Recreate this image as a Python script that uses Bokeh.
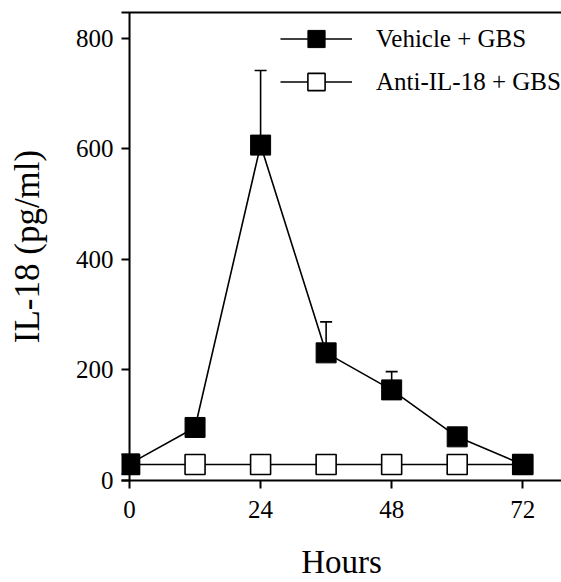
from bokeh.plotting import figure
from bokeh.models import (Range1d, LinearAxis, FixedTicker, Span, Whisker, TeeHead,
                          ColumnDataSource, Legend, LegendItem)
from bokeh.embed import file_html
from bokeh.resources import INLINE

hours = [0, 12, 24, 36, 48, 60, 72]
vehicle = [30, 96, 607, 231, 164, 79, 29]
vehicle_sem = [0, 0, 135, 56, 33, 0, 0]
anti = [29, 29, 29, 29, 29, 29, 29]
x_ticks = [0, 24, 48, 72]
y_ticks = [0, 200, 400, 600, 800]

FONT = "Liberation Serif"

p = figure(width=561, height=582, output_backend="svg", toolbar_location=None,
           x_range=Range1d(-1.47, 79.1), y_range=Range1d(0, 847),
           min_border_left=121, min_border_right=0, min_border_top=12,
           min_border_bottom=101, outline_line_color=None)
p.grid.visible = False
p.background_fill_color = "white"
p.border_fill_color = "white"

# axes
p.xaxis.ticker = FixedTicker(ticks=x_ticks)
p.yaxis.ticker = FixedTicker(ticks=y_ticks)
for ax in (p.xaxis[0], p.yaxis[0]):
    ax.axis_line_width = 2
    ax.axis_line_color = "black"
    ax.major_tick_line_width = 2
    ax.major_tick_line_color = "black"
    ax.minor_tick_line_color = None
    ax.major_label_text_font = FONT
    ax.major_label_text_font_size = "25px"
    ax.major_label_text_color = "black"
    ax.axis_label_text_font = FONT
    ax.axis_label_text_font_style = "normal"
    ax.axis_label_text_color = "black"

p.xaxis.major_tick_out = 8
p.xaxis.major_tick_in = 0
p.xaxis.major_label_standoff = 12
p.xaxis.axis_label = "Hours"
p.xaxis.axis_label_text_font_size = "33px"
p.xaxis.axis_label_standoff = 23

p.yaxis.axis_line_color = None
p.yaxis.major_tick_out = 0
p.yaxis.major_tick_in = 8
p.yaxis.major_label_standoff = 8
p.yaxis.axis_label = "IL-18 (pg/ml)"
p.yaxis.axis_label_text_font_size = "35px"
p.yaxis.axis_label_standoff = 26

# y axis line at x = 0
p.add_layout(Span(location=0, dimension="height", line_color="black", line_width=2))

# top border line
top = LinearAxis(ticker=FixedTicker(ticks=[]), axis_line_width=2, axis_line_color="black",
                 major_tick_out=0, major_tick_in=0, major_label_standoff=0,
                 major_label_text_font_size="0px", minor_tick_line_color=None)
p.add_layout(top, "above")

src = ColumnDataSource(dict(hours=hours, vehicle=vehicle, anti=anti,
                            upper=[v + e for v, e in zip(vehicle, vehicle_sem)]))

# anti-IL-18 series
a_line = p.line("hours", "anti", source=src, line_color="black", line_width=1.6)
a_mark = p.scatter("hours", "anti", source=src, marker="square", size=20,
                   fill_color="white", line_color="black", line_width=1.6)

# error bars (upper only)
wk = Whisker(base="hours", lower="vehicle", upper="upper", source=src,
             line_color="black", line_width=1.6,
             upper_head=TeeHead(size=12, line_color="black", line_width=1.6),
             lower_head=None)
p.add_layout(wk)

# vehicle series
v_line = p.line("hours", "vehicle", source=src, line_color="black", line_width=1.6)
v_mark = p.scatter("hours", "vehicle", source=src, marker="square", size=20,
                   fill_color="black", line_color="black", line_width=1)

legend = Legend(items=[LegendItem(label="Vehicle + GBS", renderers=[v_line, v_mark]),
                       LegendItem(label="Anti-IL-18 + GBS", renderers=[a_line, a_mark])],
                location=(159, 377), orientation="vertical",
                glyph_width=72, glyph_height=43, label_standoff=24, spacing=0,
                padding=0, margin=0, border_line_color=None, background_fill_alpha=0,
                label_text_font=FONT, label_text_font_size="25px", label_text_color="black")
p.add_layout(legend)

open("out.html", "w").write(file_html(p, INLINE))
